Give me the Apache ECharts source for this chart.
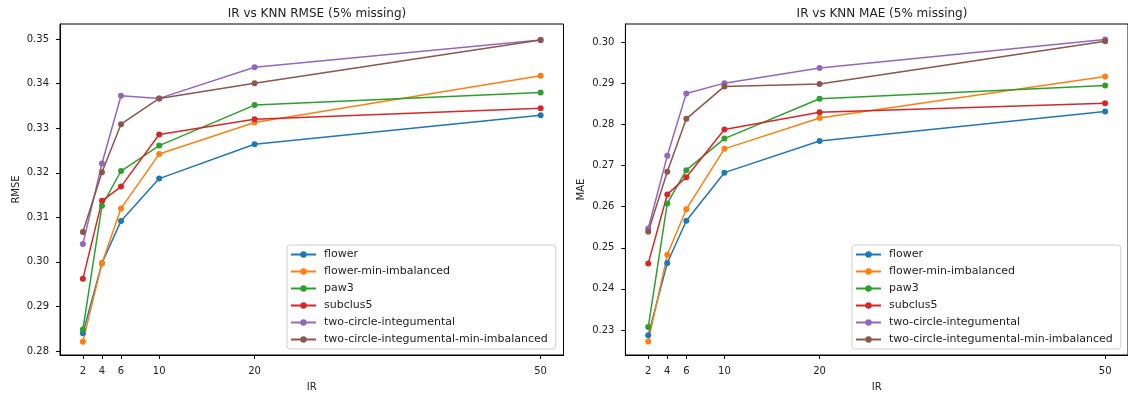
<!DOCTYPE html>
<html>
<head>
<meta charset="utf-8">
<script src="https://cdn.jsdelivr.net/npm/echarts@6/dist/echarts.min.js"></script>
<style>
  html, body { margin: 0; padding: 0; background: #fff; }
  #chart { width: 1128px; height: 399px; }
</style>
</head>
<body>
<div id="chart"></div>
<script>
// Imbalance ratios on the x axis
const irValues = [2, 4, 6, 10, 20, 50];

const datasetNames = [
  'flower',
  'flower-min-imbalanced',
  'paw3',
  'subclus5',
  'two-circle-integumental',
  'two-circle-integumental-min-imbalanced'
];

// RMSE per dataset (5% missing)
const rmseFlower    = [0.2840, 0.2997, 0.3092, 0.3187, 0.3264, 0.3329];
const rmseFlowerMin = [0.2821, 0.2997, 0.3120, 0.3242, 0.3313, 0.3418];
const rmsePaw3      = [0.2848, 0.3126, 0.3204, 0.3261, 0.3352, 0.3380];
const rmseSubclus5  = [0.2962, 0.3137, 0.3169, 0.3286, 0.3320, 0.3345];
const rmseTwoCircle = [0.3040, 0.3221, 0.3373, 0.3367, 0.3437, 0.3498];
const rmseTwoCircleMin = [0.3067, 0.3201, 0.3309, 0.3367, 0.3401, 0.3498];

// MAE per dataset (5% missing)
const maeFlower    = [0.2287, 0.2463, 0.2566, 0.2683, 0.2760, 0.2832];
const maeFlowerMin = [0.2272, 0.2483, 0.2594, 0.2741, 0.2816, 0.2917];
const maePaw3      = [0.2307, 0.2608, 0.2689, 0.2766, 0.2863, 0.2895];
const maeSubclus5  = [0.2462, 0.2630, 0.2672, 0.2788, 0.2830, 0.2852];
const maeTwoCircle = [0.2547, 0.2724, 0.2876, 0.2901, 0.2938, 0.3007];
const maeTwoCircleMin = [0.2539, 0.2685, 0.2814, 0.2893, 0.2899, 0.3003];

const rmseTicks = [0.28, 0.29, 0.30, 0.31, 0.32, 0.33, 0.34, 0.35];
const maeTicks  = [0.23, 0.24, 0.25, 0.26, 0.27, 0.28, 0.29, 0.30];

const rmseSeries = [rmseFlower, rmseFlowerMin, rmsePaw3, rmseSubclus5, rmseTwoCircle, rmseTwoCircleMin];
const maeSeries  = [maeFlower, maeFlowerMin, maePaw3, maeSubclus5, maeTwoCircle, maeTwoCircleMin];

const palette = ['#1f77b4', '#ff7f0e', '#2ca02c', '#d62728', '#9467bd', '#8c564b'];
const textColor = '#222';
const fontFamily = 'DejaVu Sans';

function xAxisFor(gridIndex) {
  return {
    type: 'value', gridIndex: gridIndex,
    min: -0.4, max: 52.4,
    name: 'IR', nameLocation: 'middle', nameGap: 27,
    nameTextStyle: { color: textColor, fontSize: 10, fontFamily: fontFamily },
    axisLine: { show: true, onZero: false, lineStyle: { color: '#000', width: 1 } },
    axisTick: { show: true, length: 4, customValues: irValues, lineStyle: { color: '#000' } },
    axisLabel: { customValues: irValues, margin: 11, color: textColor, fontSize: 10, fontFamily: fontFamily },
    splitLine: { show: false }
  };
}

function yAxisFor(gridIndex, name, ticks, min, max) {
  return {
    type: 'value', gridIndex: gridIndex,
    min: min, max: max,
    name: name, nameLocation: 'middle', nameGap: 39, nameRotate: 90,
    nameTextStyle: { color: textColor, fontSize: 10, fontFamily: fontFamily },
    axisLine: { show: true, onZero: false, lineStyle: { color: '#000', width: 1 } },
    axisTick: { show: true, length: 4, customValues: ticks, lineStyle: { color: '#000' } },
    axisLabel: {
      customValues: ticks, margin: 11, color: textColor, fontSize: 10, fontFamily: fontFamily,
      formatter: v => v.toFixed(2)
    },
    splitLine: { show: false }
  };
}

function legendFor(left) {
  return {
    data: datasetNames,
    orient: 'vertical',
    left: left, top: 245,
    itemWidth: 25, itemHeight: 8, itemGap: 6,
    padding: [4, 8, 4, 3],
    backgroundColor: 'rgba(255,255,255,0.8)',
    borderColor: '#d0d0d0', borderWidth: 1, borderRadius: 3,
    selectedMode: false,
    textStyle: { color: textColor, fontSize: 11, fontFamily: fontFamily, padding: [0, 0, 0, 3] }
  };
}

function buildSeries(values, axisIndex) {
  return values.map((ys, i) => ({
    name: datasetNames[i],
    type: 'line',
    xAxisIndex: axisIndex, yAxisIndex: axisIndex,
    data: irValues.map((x, k) => [x, ys[k]]),
    symbol: 'circle', symbolSize: 6,
    showSymbol: true,
    lineStyle: { width: 1.5, color: palette[i] },
    itemStyle: { color: palette[i] },
    emphasis: { disabled: true },
    animation: false
  }));
}

const chart = echarts.init(document.getElementById('chart'), null, { renderer: 'canvas' });
chart.setOption({
  animation: false,
  color: palette,
  title: [
    { text: 'IR vs KNN RMSE (5% missing)', left: 312, top: 3, textAlign: 'center',
      textStyle: { fontSize: 12, fontWeight: 'normal', color: textColor, fontFamily: fontFamily } },
    { text: 'IR vs KNN MAE (5% missing)', left: 877, top: 3, textAlign: 'center',
      textStyle: { fontSize: 12, fontWeight: 'normal', color: textColor, fontFamily: fontFamily } }
  ],
  legend: [legendFor(287), legendFor(852)],
  grid: [
    { left: 60, top: 24, width: 503.5, height: 331, show: true, borderColor: '#000', borderWidth: 1 },
    { left: 625.4, top: 24, width: 503.5, height: 331, show: true, borderColor: '#000', borderWidth: 1 }
  ],
  xAxis: [xAxisFor(0), xAxisFor(1)],
  yAxis: [
    yAxisFor(0, 'RMSE', rmseTicks, 0.2791, 0.3534),
    yAxisFor(1, 'MAE', maeTicks, 0.2239, 0.3045)
  ],
  series: buildSeries(rmseSeries, 0).concat(buildSeries(maeSeries, 1))
});
</script>
</body>
</html>
